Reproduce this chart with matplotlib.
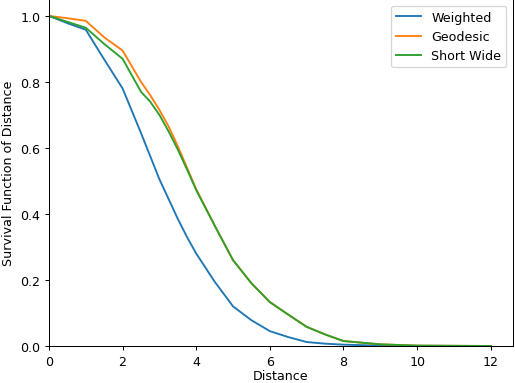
import matplotlib
matplotlib.use("Agg")
import matplotlib.pyplot as plt

dist = [0, 0.5, 1, 1.5, 2, 2.5, 2.75, 3, 3.25, 3.5, 3.75, 4, 4.5, 5, 5.5, 6, 6.5, 7, 7.5, 8, 9, 10, 11, 12]
weighted = [1.0, 0.978, 0.958, 0.868, 0.78, 0.645, 0.575, 0.505, 0.445, 0.385, 0.33, 0.28, 0.195, 0.12,
            0.078, 0.045, 0.027, 0.012, 0.007, 0.004, 0.001, 0.0005, 0.0002, 0.0]
geodesic = [1.0, 0.993, 0.985, 0.935, 0.895, 0.80, 0.76, 0.715, 0.665, 0.605, 0.54, 0.475, 0.365, 0.26,
            0.19, 0.133, 0.095, 0.058, 0.035, 0.015, 0.005, 0.001, 0.0005, 0.0]
shortwide = [1.0, 0.982, 0.964, 0.915, 0.87, 0.77, 0.74, 0.70, 0.65, 0.595, 0.535, 0.472, 0.365, 0.26,
             0.19, 0.133, 0.095, 0.058, 0.035, 0.015, 0.005, 0.001, 0.0005, 0.0]

fig, ax = plt.subplots(figsize=(5.70, 4.243), dpi=90.5)
fig.subplots_adjust(left=0.095, right=0.994, bottom=0.0964, top=0.999)
ax.plot(dist, weighted, label="Weighted")
ax.plot(dist, geodesic, label="Geodesic")
ax.plot(dist, shortwide, label="Short Wide")
ax.set_xlim(left=0)
ax.set_ylim(bottom=0)
ax.set_xlabel("Distance", labelpad=1)
ax.set_ylabel("Survival Function of Distance")
ax.legend(loc="upper right")
fig.savefig("out.png")
